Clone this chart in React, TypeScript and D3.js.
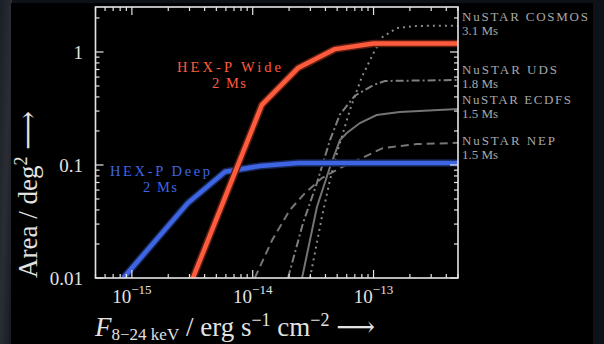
import * as d3 from "d3";

// flux limits (erg/s/cm2) vs. survey area (deg2)
const HEXP_WIDE: [number, number][] = [
  [3.2e-15, 0.01], [1.19e-14, 0.34], [2.37e-14, 0.72], [4.8e-14, 1.06], [1.0e-13, 1.19], [5e-13, 1.19],
];
const HEXP_DEEP: [number, number][] = [
  [8.5e-16, 0.01], [2.9e-15, 0.046], [5.9e-15, 0.087], [1.15e-14, 0.098], [2.37e-14, 0.104], [5e-13, 0.104],
];
const NUSTAR_COSMOS: [number, number][] = [
  [2.98e-14, 0.01], [3.74e-14, 0.0347], [4.36e-14, 0.0736], [5.07e-14, 0.136], [6.37e-14, 0.307],
  [8.0e-14, 0.6], [1.0e-13, 0.98], [1.19e-13, 1.36], [1.56e-13, 1.63], [2.28e-13, 1.7], [5e-13, 1.71],
];
const NUSTAR_UDS: [number, number][] = [
  [1.96e-14, 0.01], [2.61e-14, 0.0307], [3.4e-14, 0.0693], [4.36e-14, 0.166], [5.27e-14, 0.28],
  [7.0e-14, 0.41], [1.0e-13, 0.51], [1.24e-13, 0.554], [5e-13, 0.565],
];
const NUSTAR_ECDFS: [number, number][] = [
  [2.56e-14, 0.01], [3.4e-14, 0.0425], [4.36e-14, 0.096], [5.27e-14, 0.166], [6.01e-14, 0.192],
  [7.71e-14, 0.235], [1.06e-13, 0.277], [1.65e-13, 0.294], [5e-13, 0.313],
];
const NUSTAR_NEP: [number, number][] = [
  [1.04e-14, 0.01], [1.45e-14, 0.0217], [2.03e-14, 0.04], [2.71e-14, 0.0565], [3.74e-14, 0.0767],
  [5.3e-14, 0.094], [8.4e-14, 0.118], [1.19e-13, 0.141], [2.28e-13, 0.153], [5e-13, 0.157],
];

const NUSTAR_NAMES = ["NuSTAR COSMOS", "NuSTAR UDS", "NuSTAR ECDFS", "NuSTAR NEP"];
const NUSTAR_EXPOSURE = ["3.1 Ms", "1.8 Ms", "1.5 Ms", "1.5 Ms"];
const X_TICK_EXP = [-15, -14, -13];
const Y_TICK_LABELS = ["0.01", "0.1", "1"];

const W = 604, H = 344;
const L = 95.5, R = 458, T = 7, B = 278;
const FONT = "'Liberation Serif', 'DejaVu Serif', serif";

export default function App() {
  const x = d3.scaleLog().domain([5e-16, 5e-13]).range([L, R]);
  const y = d3.scaleLog().domain([0.01, 2.5]).range([B, T]);
  const line = d3.line<[number, number]>().x((d) => x(d[0])).y((d) => y(d[1]));

  const isMajor = (v: number) => Math.abs(Math.log10(v) - Math.round(Math.log10(v))) < 1e-6;
  const xt = x.ticks();
  const yt = y.ticks();

  const grey = [
    { d: NUSTAR_NEP, color: "#767676", dash: "8,5" },
    { d: NUSTAR_ECDFS, color: "#747474", dash: "" },
    { d: NUSTAR_UDS, color: "#7e7e7e", dash: "8,3,2,3" },
    { d: NUSTAR_COSMOS, color: "#8a8a8a", dash: "2,4" },
  ];
  // baseline of each NuSTAR name
  const labelY = [21, 74, 104, 145];
  const nameW = [126, 95, 109, 93];

  return (
    <svg width={W} height={H} style={{ position: "absolute", left: 0, top: 0 }}>
      <defs>
        <clipPath id="plot">
          <rect x={L} y={T} width={R - L} height={B - T} />
        </clipPath>
        <linearGradient id="bgl" x1="0" x2="1" y1="0" y2="1">
          <stop offset="0" stopColor="#1a1e26" />
          <stop offset="0.5" stopColor="#2a2d33" />
          <stop offset="1" stopColor="#15181e" />
        </linearGradient>
      </defs>
      <rect width={W} height={H} fill="#0d1118" />
      <rect x={0} y={0} width={12} height={H} fill="url(#bgl)" />
      <rect x={11} y={3} width={582} height={H - 3} fill="#000" />

      <g clipPath="url(#plot)" fill="none">
        {grey.map((s, i) => (
          <path key={i} d={line(s.d) ?? ""} stroke={s.color} strokeWidth={2}
            strokeDasharray={s.dash || undefined} />
        ))}
        <path d={line(HEXP_DEEP) ?? ""} stroke="#16244f" strokeWidth={7.5} strokeLinejoin="round" />
        <path d={line(HEXP_DEEP) ?? ""} stroke="#3e66e4" strokeWidth={4.5} strokeLinejoin="round" />
        <path d={line(HEXP_WIDE) ?? ""} stroke="#5a1d12" strokeWidth={7.5} strokeLinejoin="round" />
        <path d={line(HEXP_WIDE) ?? ""} stroke="#ff5b3c" strokeWidth={4.5} strokeLinejoin="round" />
      </g>

      {/* frame + inward ticks on all sides */}
      <rect x={L} y={T} width={R - L} height={B - T} fill="none" stroke="#e6e6e6" strokeWidth={1.6} />
      <g stroke="#e6e6e6" strokeWidth={1.2}>
        {xt.map((v, i) => {
          const len = isMajor(v) ? 8 : 4;
          const px = x(v);
          return (
            <g key={i}>
              <line x1={px} x2={px} y1={B} y2={B - len} />
              <line x1={px} x2={px} y1={T} y2={T + len} />
            </g>
          );
        })}
        {yt.map((v, i) => {
          const len = isMajor(v) ? 8 : 4;
          const py = y(v);
          return (
            <g key={i}>
              <line x1={L} x2={L + len} y1={py} y2={py} />
              <line x1={R} x2={R - len} y1={py} y2={py} />
            </g>
          );
        })}
      </g>

      <g fontFamily={FONT} fill="#e2e2e2">
        {Y_TICK_LABELS.map((t) => (
          <text key={t} x={83} y={y(+t) + 7} fontSize={19} textAnchor="end">{t}</text>
        ))}
        {X_TICK_EXP.map((e) => (
          <text key={e} x={x(Math.pow(10, e))} y={303} fontSize={19} textAnchor="middle">
            10<tspan fontSize={13} dy={-9}>−{Math.abs(e)}</tspan>
          </text>
        ))}

        <text x={95} y={336} fontSize={27}>
          <tspan fontStyle="italic">F</tspan>
          <tspan fontSize={17} dy={4}>8−24 keV</tspan>
          <tspan dy={-4}> / erg s</tspan>
          <tspan fontSize={18} dy={-10}>−1</tspan>
          <tspan dy={10}> cm</tspan>
          <tspan fontSize={18} dy={-10}>−2</tspan>
          <tspan dy={10}> ⟶</tspan>
        </text>

        <text transform="rotate(-90)" x={-278} y={37} fontSize={27}>
          Area / deg<tspan fontSize={18} dy={-10}>2</tspan>
          <tspan dy={10}> ⟶</tspan>
        </text>
      </g>

      <g fontFamily={FONT} textAnchor="middle" fontSize={14.5}>
        <text x={229} y={72} fill="#ff5b3c" textLength={104}>HEX-P Wide</text>
        <text x={229} y={88} fill="#ff5b3c" textLength={34}>2 Ms</text>
        <text x={160} y={176} fill="#3e66e4" textLength={100}>HEX-P Deep</text>
        <text x={160} y={192} fill="#3e66e4" textLength={34}>2 Ms</text>
      </g>

      <g fontFamily={FONT} fontSize={13} fill="#a8a8a8">
        {NUSTAR_NAMES.map((n, i) => (
          <g key={n}>
            <text x={462} y={labelY[i]} textLength={nameW[i]}>{n}</text>
            <text x={462} y={labelY[i] + 14}>{NUSTAR_EXPOSURE[i]}</text>
          </g>
        ))}
      </g>
    </svg>
  );
}
